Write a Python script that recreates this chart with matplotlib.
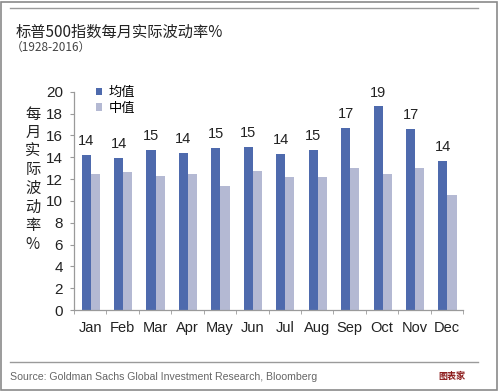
import numpy as np
import matplotlib.pyplot as plt
from matplotlib.patches import Rectangle
from matplotlib.lines import Line2D

plt.rcParams['font.family'] = ['Liberation Sans', 'Noto Sans CJK SC', 'DejaVu Sans']

# --- data ---
months = ['Jan', 'Feb', 'Mar', 'Apr', 'May', 'Jun', 'Jul', 'Aug', 'Sep', 'Oct', 'Nov', 'Dec']
mean_vol = [14.25, 13.95, 14.7, 14.4, 14.85, 14.95, 14.3, 14.7, 16.65, 18.65, 16.6, 13.7]
median_vol = [12.45, 12.65, 12.25, 12.45, 11.4, 12.75, 12.2, 12.2, 13.0, 12.45, 13.05, 10.55]
yticks = [0, 2, 4, 6, 8, 10, 12, 14, 16, 18, 20]

mean_color = '#4e6aad'
median_color = '#b4b9d3'
grey = '#9a9a9a'

fig = plt.figure(figsize=(4.99, 3.92), dpi=100)
ax = fig.add_axes([0.1483, 0.209, 0.78, 0.557])

x = np.arange(len(months))
w = 0.28
ax.bar(x - 0.125, mean_vol, width=w, color=mean_color, label='均值')
ax.bar(x + 0.155, median_vol, width=w, color=median_color, label='中值')

# value labels on the mean bars
for xi, v in zip(x, mean_vol):
    ax.annotate(f'{v:.0f}', (xi - 0.125, v), xytext=(0, 5), textcoords='offset points',
                ha='center', va='bottom', fontsize=10.5, color='#222222')

ax.set_xlim(-0.5, len(months) - 0.5)
ax.set_ylim(0, 20)
ax.set_yticks(yticks)
ax.set_xticks(x)
ax.set_xticklabels(months)
ax.set_xticks(np.arange(-0.5, len(months)), minor=True)
ax.tick_params(axis='x', which='major', length=0, labelsize=10.5, pad=8, colors='#222222')
ax.tick_params(axis='x', which='minor', length=3, color=grey, direction='out')
ax.tick_params(axis='y', length=3, labelsize=11, pad=5, colors='#222222')
ax.tick_params(axis='y', color=grey)
for s in ['top', 'right']:
    ax.spines[s].set_visible(False)
for s in ['left', 'bottom']:
    ax.spines[s].set_color(grey)
    ax.spines[s].set_linewidth(0.9)

ax.legend(loc='upper left', bbox_to_anchor=(0.025, 1.08), frameon=False,
          handlelength=0.5, handleheight=0.5, handletextpad=0.5,
          labelspacing=0.2, prop={'family': ['Noto Sans CJK SC'], 'size': 9.5})

# titles
fig.text(0.032, 0.918, '标普500指数每月实际波动率%', fontsize=11,
         family=['Noto Sans CJK SC'], color='#222222', va='center')
fig.text(0.022, 0.880, '（1928-2016）', fontsize=8.5,
         family=['Noto Sans CJK SC'], color='#444444', va='center')

# stacked y label
fig.text(0.066, 0.543, '\n'.join('每月实际波动率%'), fontsize=11,
         family=['Noto Sans CJK SC'], ha='center', va='center',
         linespacing=1.12, color='#222222')

# frame and separator lines
fig.add_artist(Rectangle((0.003, 0.004), 0.993, 0.992, transform=fig.transFigure,
                         fill=False, edgecolor='#8a8a8a', linewidth=1.2))
fig.add_artist(Line2D([0.02, 0.958], [0.979, 0.979], color='#9a9a9a', linewidth=1.0))
fig.add_artist(Line2D([0.02, 0.958], [0.077, 0.077], color='#9a9a9a', linewidth=1.0))

fig.text(0.02, 0.038, 'Source: Goldman Sachs Global Investment Research, Bloomberg',
         fontsize=7.6, family=['Liberation Sans Narrow', 'Liberation Sans'],
         color='#666666', va='center')
fig.text(0.905, 0.040, '图表家', fontsize=6.5, family=['Noto Sans CJK SC'],
         color='#8b1a1a', va='center', ha='center', weight='bold')

fig.savefig('out.png', dpi=100)
